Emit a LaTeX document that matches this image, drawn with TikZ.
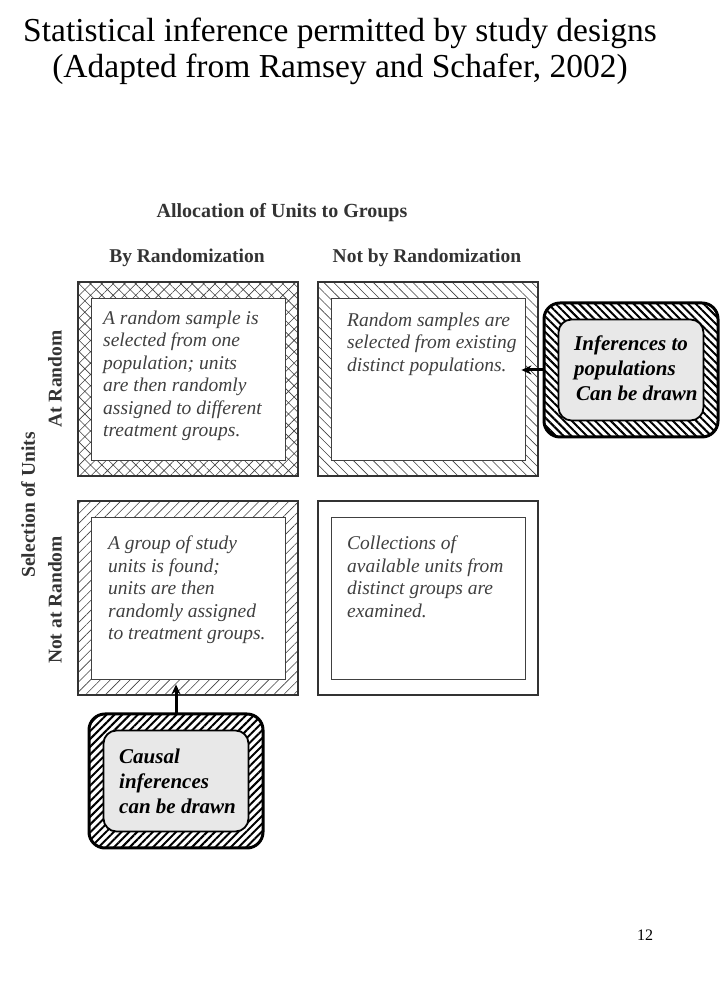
\documentclass[tikz,border=0pt]{standalone}
\usepackage{fontspec}
\setmainfont{Liberation Serif}
\usetikzlibrary{positioning}
\usetikzlibrary{patterns.meta}
\usetikzlibrary{arrows.meta}
\tikzset{
  frame/.style={draw=black!80, line width=1.2pt, inner sep=0pt,
    minimum width=220pt, minimum height=194pt},
  cell/.style={draw=black!75, line width=0.8pt, fill=white, inner sep=0pt,
    minimum width=194pt, minimum height=162pt},
  celltext/.style={anchor=north west, align=left, inner sep=0pt, text=black!75,
    font=\fontsize{19.5}{22.5}\selectfont\itshape},
  heading/.style={text=black!80, inner sep=0pt, font=\fontsize{19.5}{22}\selectfont\bfseries},
  callout/.style={draw=black, line width=3pt, rounded corners=16pt, inner sep=0pt,
    minimum width=174pt, minimum height=134pt},
  calloutin/.style={draw=black, line width=1.8pt, fill=black!9, rounded corners=13pt,
    inner sep=0pt, minimum width=145pt, minimum height=101pt},
  callouttext/.style={anchor=north west, align=left, inner sep=0pt,
    font=\fontsize{21}{25}\selectfont\bfseries\itshape},
  pointer/.style={-{Stealth[length=10pt,width=9pt]}, line width=3pt},
}

\begin{document}
\begin{tikzpicture}[x=1pt,y=1pt]
                \useasboundingbox (0,0) rectangle (720,1008);

                \node[align=center, font=\fontsize{33.5}{36}\selectfont] (title) at (340,957)
                  {Statistical inference permitted by study designs\\(Adapted from Ramsey and Schafer, 2002)};

                % headings
                \node[heading, font=\fontsize{20}{22}\selectfont\bfseries] (alloc) at (282,795){Allocation of Units to Groups};
                \node[heading] (byrand) at (187,750){By Randomization};
                \node[heading] (notbyrand) at (427,750){Not by Randomization};
                \node[heading, rotate=90] (selunits) at (28,503){Selection of Units};
                \node[heading, rotate=90] (atrand) at (55,629){At Random};
                \node[heading, rotate=90] (notatrand) at (55,408){Not at Random};

                % the four cells
                \node[frame, pattern={Hatch[angle=45,distance=8pt,line width=0.6pt]}, pattern color=black!75] (tl) at (188,629){};
                \node[cell] (tlin) at (tl.center){};
                \node[celltext] (tltext) at (103,697.3){A random sample is\\selected from one\\population; units\\are then randomly\\assigned to different\\treatment groups.};

                \node[frame, pattern={Lines[angle=-45,distance=7pt,line width=0.6pt]}, pattern color=black!75] (tr) at (428,629){};
                \node[cell] (trin) at (tr.center){};
                \node[celltext] (trtext) at (347,695.3){Random samples are\\selected from existing\\distinct populations.};

                \node[frame, pattern={Lines[angle=45,distance=7pt,line width=0.6pt]}, pattern color=black!75] (bl) at (188,410){};
                \node[cell] (blin) at (bl.center){};
                \node[celltext] (bltext) at (108,472.3){A group of study\\units is found;\\units are then\\randomly assigned\\to treatment groups.};

                \node[frame] (br) at (428,410){};
                \node[cell] (brin) at (br.center){};
                \node[celltext] (brtext) at (347,472.3){Collections of\\available units from\\distinct groups are\\examined.};

                % callouts
                \node[callout, pattern={Lines[angle=-45,distance=5.5pt,line width=2pt]}] (infer) at (631,638){};
                \node[calloutin] (inferin) at (infer.center){};
                \node[callouttext] (infertext) at (574,672.5){Inferences to\\populations\\\hspace{2pt}Can be drawn};
                \draw[pointer] (infer.west) -- ([xshift=-4pt]trin.east |- infer.west);

                \node[callout, pattern={Lines[angle=45,distance=5.5pt,line width=2pt]}] (causal) at (176,227){};
                \node[calloutin] (causalin) at (causal.center){};
                \node[callouttext] (causaltext) at (119,259.5){Causal\\inferences\\can be drawn};
                \draw[pointer] (causal.north) -- ([yshift=-5pt]causal.north |- blin.south);

                \node[font=\fontsize{16}{18}\selectfont] (pagenum) at (645,73){12};

        \end{tikzpicture}
\end{document}
